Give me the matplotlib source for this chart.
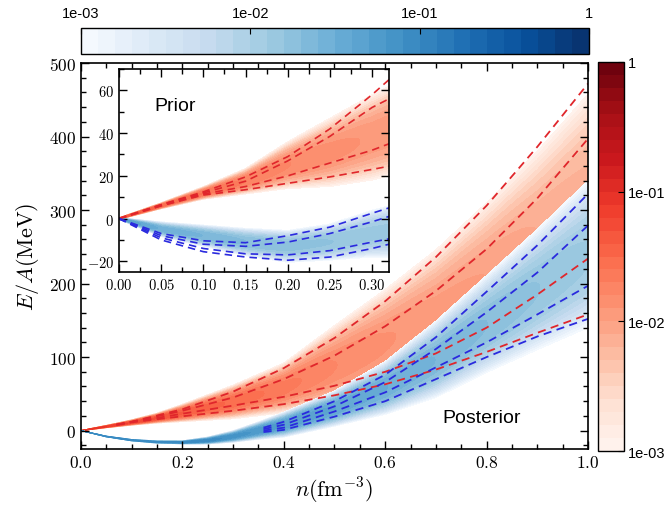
import numpy as np
import matplotlib
matplotlib.use('Agg')
import matplotlib.pyplot as plt
from matplotlib.colors import LogNorm
from matplotlib.ticker import MultipleLocator, FuncFormatter

plt.rcParams['mathtext.fontset'] = 'cm'
plt.rcParams['font.family'] = ['Liberation Sans', 'DejaVu Sans']

# ---- posterior (main panel): bands ----
n_red_band = [0.0, 0.05, 0.1, 0.15, 0.2, 0.3, 0.4, 0.5, 0.6, 0.7, 0.8, 0.9, 1.0]
red_center = [0, 5.5, 11, 17, 24, 39, 58, 88, 120, 158, 205, 260, 318]
red_half = [0.6, 2, 4, 7, 12, 23, 34, 55, 72, 88, 105, 120, 140]
red_peak = [0.1, 0.08, 0.06, 0.05, 0.04, 0.03, 0.022, 0.016, 0.013, 0.011, 0.01, 0.008, 0.007]

n_blue_band = [0.0, 0.05, 0.1, 0.15, 0.2, 0.25, 0.3, 0.35, 0.4, 0.5, 0.6, 0.7, 0.8, 0.9, 1.0]
blue_center = [0, -8, -13, -15.5, -16, -13.5, -8, 0, 8, 30, 58, 97, 145, 192, 240]
blue_half = [0.6, 1, 1.5, 2, 2.5, 5, 8, 12, 17, 24, 36, 52, 66, 82, 100]
blue_peak = [0.1, 0.1, 0.1, 0.1, 0.1, 0.09, 0.07, 0.06, 0.05, 0.04, 0.032, 0.025, 0.02, 0.016, 0.013]

# posterior dashed curves
n_red_lines = [0.07, 0.1, 0.2, 0.3, 0.4, 0.5, 0.6, 0.7, 0.8, 0.9, 1.0]
red_lines = [
    [8, 12, 29, 53, 85, 126, 176, 236, 306, 386, 472],
    [8, 12, 27, 45, 70, 102, 142, 190, 247, 316, 397],
    [8, 11.5, 23, 34, 46, 61, 80, 105, 140, 185, 234],
    [8, 11.5, 19.5, 27, 36, 48, 63, 83, 107, 133, 158],
]
n_blue_lines = [0.36, 0.4, 0.5, 0.6, 0.7, 0.8, 0.9, 1.0]
blue_lines = [
    [4, 12, 40, 76, 127, 189, 252, 322],
    [2, 8, 33, 66, 111, 161, 215, 279],
    [0, 4, 26, 52, 86, 120, 158, 197],
    [-2, 1, 19, 40, 70, 100, 128, 152],
]

# ---- prior (inset) ----
n_in = [0.0, 0.05, 0.1, 0.15, 0.2, 0.25, 0.3, 0.32]
in_red_center = [0, 6, 12, 17.5, 25, 31, 38, 41]
in_red_half = [0.5, 1.5, 3, 6, 11, 16, 20, 21]
in_red_peak = [0.05, 0.03, 0.025, 0.02, 0.016, 0.014, 0.012, 0.012]
in_blue_center = [0, -5, -8, -11, -13, -11, -7, -6]
in_blue_half = [0.5, 3.5, 5, 6.5, 7.5, 8.5, 11, 12]
in_blue_peak = [0.05, 0.03, 0.025, 0.02, 0.018, 0.016, 0.014, 0.014]
in_red_lines = [
    [0, 6.5, 12.5, 19.5, 29, 42, 58, 65],
    [0, 6.5, 12, 17.5, 27, 38.5, 52, 56],
    [0, 6, 11.5, 15, 20, 26, 32, 35],
    [0, 6, 11, 13.5, 16.5, 19.5, 23, 24.5],
]
in_blue_lines = [
    [0, -7, -10.4, -11.3, -8, -4, 2.5, 5],
    [0, -8, -12, -13, -11, -7, -1.5, 1],
    [0, -9, -14, -16.5, -17, -15, -11, -9.5],
    [0, -10, -15.5, -18, -19.5, -18, -14, -12],
]

levels = np.logspace(-3, 0, 31)
floor = 1e-3
RED = '#e0262b'
BLUE = '#2a2ade'


def band(n_grid, e_grid, n_pts, center, half, peak, p=2.5):
    N, E = np.meshgrid(n_grid, e_grid)
    c = np.interp(n_grid, n_pts, center)
    h = np.interp(n_grid, n_pts, half)
    a = np.interp(n_grid, n_pts, peak)
    u = np.abs((E - c) / h)
    rho = a * np.exp(-np.log(a / floor) * u ** p)
    return N, E, rho


def style_axes(ax, fs, xmaj, xmin, ymaj, ymin, xfmt, yfmt):
    ax.xaxis.set_major_locator(MultipleLocator(xmaj))
    ax.xaxis.set_minor_locator(MultipleLocator(xmin))
    ax.yaxis.set_major_locator(MultipleLocator(ymaj))
    ax.yaxis.set_minor_locator(MultipleLocator(ymin))
    ax.xaxis.set_major_formatter(FuncFormatter(lambda v, p: ('$%' + xfmt + '$') % v))
    ax.yaxis.set_major_formatter(FuncFormatter(lambda v, p: ('$%' + yfmt + '$') % v))
    ax.tick_params(which='both', direction='in', top=True, right=True, labelsize=fs, width=1)
    ax.tick_params(which='major', length=6)
    ax.tick_params(which='minor', length=3.5)
    for s in ax.spines.values():
        s.set_linewidth(1.2)


fig = plt.figure(figsize=(6.66, 5.06), dpi=100)
ax = fig.add_axes([0.1216, 0.1107, 0.7613, 0.7628])
norm = LogNorm(1e-3, 1)

nn = np.linspace(0, 1, 501)
ee = np.linspace(-25, 500, 2101)
N, E, rho_r = band(nn, ee, n_red_band, red_center, red_half, red_peak)
cs_r = ax.contourf(N, E, rho_r, levels=levels, cmap='Reds', norm=norm)
N, E, rho_b = band(nn, ee, n_blue_band, blue_center, blue_half, blue_peak)
cs_b = ax.contourf(N, E, rho_b, levels=levels, cmap='Blues', norm=norm)

for vals in red_lines:
    ax.plot(n_red_lines, vals, color=RED, lw=1.3, dashes=(4.5, 3))
for vals in blue_lines:
    ax.plot(n_blue_lines, vals, color=BLUE, lw=1.3, dashes=(4.5, 3))

ax.set_xlim(0, 1)
ax.set_ylim(-25, 500)
style_axes(ax, 12.5, 0.2, 0.05, 100, 20, '.1f', '.0f')
ax.set_xlabel(r'$n(\mathrm{fm}^{-3})$', fontsize=16, labelpad=4)
ax.set_ylabel(r'$E/A(\mathrm{MeV})$', fontsize=16, labelpad=6)
ax.text(0.79, 18, 'Posterior', fontsize=14, ha='center', va='center')

# inset with the prior
axi = fig.add_axes([0.1787, 0.4605, 0.4054, 0.4012])
ni = np.linspace(0, 0.32, 321)
ei = np.linspace(-25, 70, 761)
N, E, rho_r = band(ni, ei, n_in, in_red_center, in_red_half, in_red_peak)
axi.contourf(N, E, rho_r, levels=levels, cmap='Reds', norm=norm)
N, E, rho_b = band(ni, ei, n_in, in_blue_center, in_blue_half, in_blue_peak)
axi.contourf(N, E, rho_b, levels=levels, cmap='Blues', norm=norm)
for vals in in_red_lines:
    axi.plot(n_in, vals, color=RED, lw=1.2, dashes=(4.5, 3))
for vals in in_blue_lines:
    axi.plot(n_in, vals, color=BLUE, lw=1.2, dashes=(4.5, 3))
axi.set_xlim(0, 0.32)
axi.set_ylim(-25, 70)
style_axes(axi, 10.5, 0.05, 0.025, 20, 10, '.2f', '.0f')
axi.text(0.066, 53, 'Prior', fontsize=14, ha='center', va='center')

# colorbars
ticks = [1e-3, 1e-2, 1e-1, 1]
tick_labels = ['1e-03', '1e-02', '1e-01', '1']

cax_t = fig.add_axes([0.1216, 0.8913, 0.7628, 0.0514])
cb_t = fig.colorbar(cs_b, cax=cax_t, orientation='horizontal')
cb_t.set_ticks(ticks)
cb_t.set_ticklabels(tick_labels)
cb_t.minorticks_off()
cax_t.xaxis.set_ticks_position('top')
cax_t.tick_params(direction='in', length=4, labelsize=10.5, pad=6, labeltop=True, labelbottom=False)
cb_t.outline.set_linewidth(1)

cax_r = fig.add_axes([0.8979, 0.1067, 0.039, 0.7688])
cb_r = fig.colorbar(cs_r, cax=cax_r, orientation='vertical')
cb_r.set_ticks(ticks)
cb_r.set_ticklabels(tick_labels)
cb_r.minorticks_off()
cax_r.tick_params(direction='in', length=4, labelsize=10.5, pad=3)
cb_r.outline.set_linewidth(1)

fig.savefig('out.png', dpi=100)
